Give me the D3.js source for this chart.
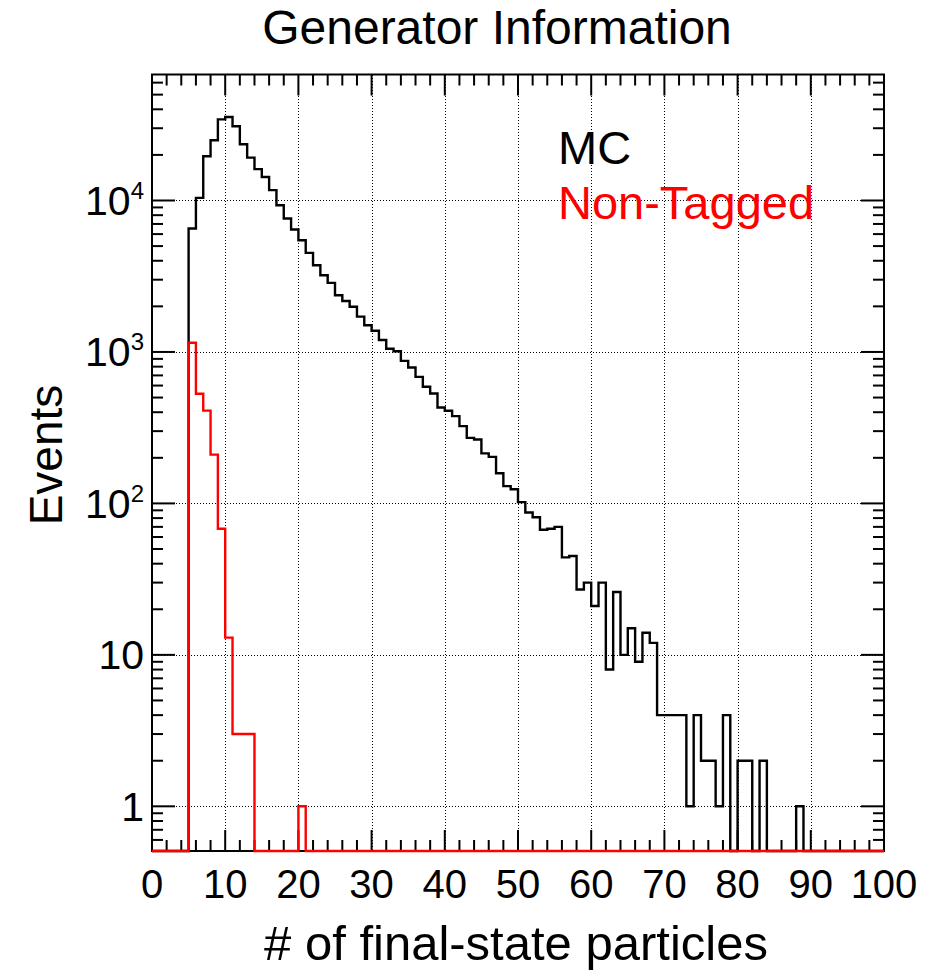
<!DOCTYPE html>
<html>
<head>
<meta charset="utf-8">
<script src="https://cdn.jsdelivr.net/npm/d3@7"></script>
<style>
  html, body { margin: 0; padding: 0; background: #fff; }
  svg text { font-family: "Liberation Sans", Arial, Helvetica, sans-serif; }
</style>
</head>
<body>
<svg id="chart" width="935" height="974"></svg>
<script>
// ---------------- data ----------------
const binEdges = d3.range(0, 101);           // 100 bins of width 1 from 0 to 100
const mcCounts = [
  0, 0, 0, 0, 0, 6530, 10400, 19600, 25000, 34300,
  35600, 30900, 23500, 19200, 16100, 14300, 11700, 9310, 7600, 6440,
  5470, 4510, 3740, 3210, 2860, 2370, 2170, 1990, 1710, 1500,
  1380, 1200, 1050, 1010, 873, 790, 685, 589, 532, 430,
  409, 377, 324, 271, 264, 214, 203, 158, 130, 124,
  102, 87, 81, 67, 68, 70, 44, 45, 27, 30,
  21, 30, 8, 26, 10, 15, 9, 14, 12, 4,
  4, 4, 4, 1, 4, 2, 2, 1, 4, 0,
  2, 2, 0, 2, 0, 0, 0, 0, 1, 0,
  0, 0, 0, 0, 0, 0, 0, 0, 0, 0
];
const nonTaggedCounts = [
  0, 0, 0, 0, 0, 1150, 530, 410, 210, 68,
  13, 3, 3, 3, 0, 0, 0, 0, 0, 0,
  1, 0, 0, 0, 0, 0, 0, 0, 0, 0,
  0, 0, 0, 0, 0, 0, 0, 0, 0, 0,
  0, 0, 0, 0, 0, 0, 0, 0, 0, 0,
  0, 0, 0, 0, 0, 0, 0, 0, 0, 0,
  0, 0, 0, 0, 0, 0, 0, 0, 0, 0,
  0, 0, 0, 0, 0, 0, 0, 0, 0, 0,
  0, 0, 0, 0, 0, 0, 0, 0, 0, 0,
  0, 0, 0, 0, 0, 0, 0, 0, 0, 0
];
const xTickLabels = [0, 10, 20, 30, 40, 50, 60, 70, 80, 90, 100];
const yTickLabels = [
  { v: 1, base: "1", exp: "" },
  { v: 10, base: "10", exp: "" },
  { v: 100, base: "10", exp: "2" },
  { v: 1000, base: "10", exp: "3" },
  { v: 10000, base: "10", exp: "4" }
];
const seriesNames = ["MC", "Non-Tagged"];
const seriesColors = ["#000000", "#ff0000"];
const titleText = "Generator Information";
const xTitle = "# of final-state particles";
const yTitle = "Events";

// ---------------- layout ----------------
const L = 152, R = 884, T = 74.5, B = 851;
const yMin = 0.507, yMax = 67900;

const svg = d3.select("#chart");
const x = d3.scaleLinear().domain([0, 100]).range([L, R]);
const y = d3.scaleLog().domain([yMin, yMax]).range([B, T]);

// grid
const gGrid = svg.append("g").attr("stroke", "#000").attr("stroke-width", 1)
  .attr("stroke-dasharray", "1,2").attr("shape-rendering", "crispEdges");
gGrid.selectAll("line.vx").data(d3.range(10, 100, 10)).enter().append("line")
  .attr("x1", d => Math.round(x(d)) + 0.5).attr("x2", d => Math.round(x(d)) + 0.5)
  .attr("y1", T).attr("y2", B);
gGrid.selectAll("line.hy").data([1, 10, 100, 1000, 10000]).enter().append("line")
  .attr("y1", d => Math.round(y(d)) + 0.5).attr("y2", d => Math.round(y(d)) + 0.5)
  .attr("x1", L).attr("x2", R);

// ticks
const gTicks = svg.append("g").attr("stroke", "#000").attr("stroke-width", 2);
const xTicks = d3.range(0, 101, 2);
xTicks.forEach(t => {
  const len = (t % 10 === 0) ? 21 : 11;
  const xx = x(t);
  gTicks.append("line").attr("x1", xx).attr("x2", xx).attr("y1", B).attr("y2", B - len);
  gTicks.append("line").attr("x1", xx).attr("x2", xx).attr("y1", T).attr("y2", T + len);
});
const yTicks = [];
for (let e = -1; e <= 5; e++) {
  for (let m = 1; m <= 9; m++) {
    const v = m * Math.pow(10, e);
    if (v >= yMin && v <= yMax) yTicks.push({ v, major: m === 1 });
  }
}
yTicks.forEach(t => {
  const len = t.major ? 23 : 11;
  const yy = y(t.v);
  gTicks.append("line").attr("y1", yy).attr("y2", yy).attr("x1", L).attr("x2", L + len);
  gTicks.append("line").attr("y1", yy).attr("y2", yy).attr("x1", R).attr("x2", R - len);
});

// frame
svg.append("rect").attr("x", L).attr("y", T).attr("width", R - L).attr("height", B - T)
  .attr("fill", "none").attr("stroke", "#000").attr("stroke-width", 2);

// clip (slightly larger than frame so bottom-running lines show over the frame)
svg.append("clipPath").attr("id", "frameclip").append("rect")
  .attr("x", L - 2).attr("y", T - 2).attr("width", R - L + 4).attr("height", B - T + 4);

function histPath(counts) {
  const pts = [];
  const yv = c => c > 0 ? y(Math.max(c, yMin)) : B;
  pts.push([x(binEdges[0]), B]);
  counts.forEach((c, i) => {
    pts.push([x(binEdges[i]), yv(c)]);
    pts.push([x(binEdges[i + 1]), yv(c)]);
  });
  pts.push([x(binEdges[binEdges.length - 1]), B]);
  return d3.line()(pts);
}

const gHist = svg.append("g").attr("clip-path", "url(#frameclip)");
gHist.append("path").attr("d", histPath(mcCounts))
  .attr("fill", "none").attr("stroke", seriesColors[0]).attr("stroke-width", 2.4)
  .attr("stroke-linejoin", "miter");
gHist.append("path").attr("d", histPath(nonTaggedCounts))
  .attr("fill", "none").attr("stroke", seriesColors[1]).attr("stroke-width", 2.4)
  .attr("stroke-linejoin", "miter");

// x tick labels
svg.append("g").selectAll("text").data(xTickLabels).enter().append("text")
  .attr("x", d => x(d)).attr("y", 898)
  .attr("text-anchor", "middle").attr("font-size", 40).attr("fill", "#000")
  .text(d => d);

// y tick labels
const yl = svg.append("g").selectAll("text").data(yTickLabels).enter().append("text")
  .attr("x", 144).attr("y", d => y(d.v) + 14.5)
  .attr("text-anchor", "end").attr("font-size", 41).attr("fill", "#000");
yl.append("tspan").text(d => d.base);
yl.filter(d => d.exp !== "").append("tspan")
  .attr("font-size", 24).attr("dy", -16).text(d => d.exp);

// titles
svg.append("text").attr("x", 497).attr("y", 44).attr("text-anchor", "middle")
  .attr("font-size", 48).attr("fill", "#000").text(titleText);
svg.append("text").attr("x", 516).attr("y", 960).attr("text-anchor", "middle")
  .attr("font-size", 49).attr("fill", "#000").text(xTitle);
svg.append("text").attr("transform", "translate(62,455) rotate(-90)")
  .attr("text-anchor", "middle").attr("font-size", 46).attr("fill", "#000").text(yTitle);

// legend
const legY = [164, 219];
svg.append("g").selectAll("text").data(seriesNames).enter().append("text")
  .attr("x", 558).attr("y", (d, i) => legY[i])
  .attr("font-size", 47).attr("fill", (d, i) => seriesColors[i])
  .text(d => d);
</script>
</body>
</html>
